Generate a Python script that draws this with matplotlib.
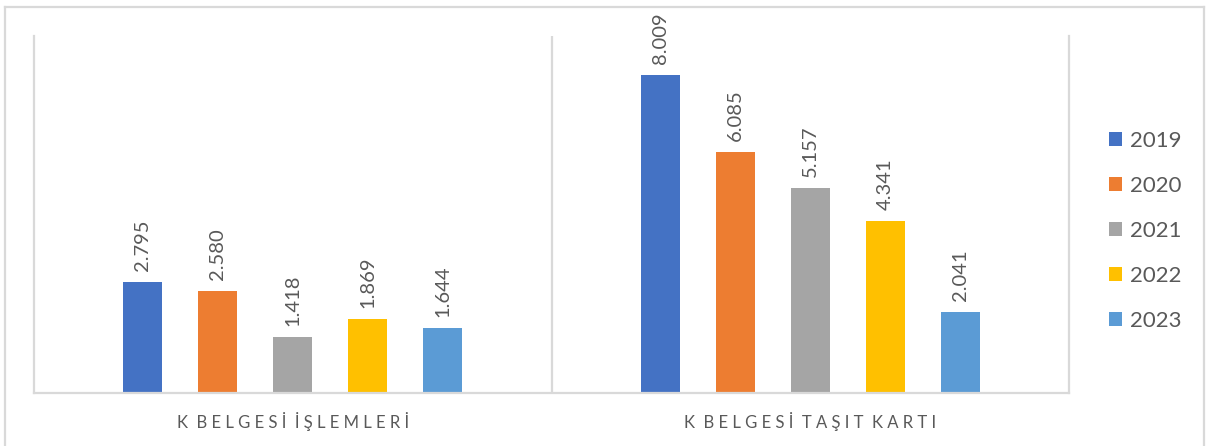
import matplotlib.pyplot as plt
import numpy as np
from matplotlib.lines import Line2D
from matplotlib.patches import Patch

categories = ["K BELGESİ İŞLEMLERİ", "K BELGESİ TAŞIT KARTI"]
years = ["2019", "2020", "2021", "2022", "2023"]
values = {
    "2019": [2795, 8009],
    "2020": [2580, 6085],
    "2021": [1418, 5157],
    "2022": [1869, 4341],
    "2023": [1644, 2041],
}
colors = ["#4472C4", "#ED7D31", "#A5A5A5", "#FFC000", "#5B9BD5"]

TEXT = "#595959"
LINE = "#D9D9D9"
plt.rcParams["font.family"] = ["Lato", "DejaVu Sans"]


def spaced(label):
    # wide character spacing for the category labels
    return "  ".join(" ".join(w) for w in label.split(" "))


def tr_num(v):
    return f"{v:,}".replace(",", ".")


fig = plt.figure(figsize=(12.06, 4.46), dpi=100)
ax = fig.add_axes([34 / 1206, 1 - 393 / 446, (1069 - 34) / 1206, (393 - 36) / 446])

x = np.arange(len(categories))
step, width = 0.145, 0.076
for i, (yr, col) in enumerate(zip(years, colors)):
    pos = x + (i - 2) * step
    bars = ax.bar(pos, values[yr], width=width, color=col, zorder=2)
    for b, v in zip(bars, values[yr]):
        ax.annotate(tr_num(v), (b.get_x() + b.get_width() / 2, v),
                    xytext=(0, 8), textcoords="offset points",
                    rotation=90, ha="center", va="bottom",
                    fontsize=14.5, color=TEXT)

ax.set_xlim(-0.5, 1.5)
ax.set_ylim(0, 9000)
ax.set_yticks([])
ax.set_xticks(x)
ax.set_xticklabels([spaced(c) for c in categories], fontsize=12, color=TEXT)
ax.tick_params(axis="x", length=0, pad=14)
ax.axvline(0.5, color=LINE, lw=1.6, zorder=1)
for side in ("left", "right", "bottom"):
    ax.spines[side].set_color(LINE)
    ax.spines[side].set_linewidth(1.6)
ax.spines["top"].set_visible(False)

handles = [Patch(facecolor=c, edgecolor="none") for c in colors]
fig.legend(handles, years, loc="upper left",
           bbox_to_anchor=(1109 / 1206, 1 - 131 / 446),
           frameon=False, fontsize=16, labelcolor=TEXT,
           handlelength=0.6, handleheight=0.6, handletextpad=0.35,
           labelspacing=1.12, borderaxespad=0, borderpad=0)

# outer chart border
for xs, ys in (([5, 5], [446, 7]), ([5, 1204], [7, 7]), ([1204, 1204], [7, 446])):
    fig.add_artist(Line2D([v / 1206 for v in xs], [1 - v / 446 for v in ys],
                          color=LINE, lw=1.6, transform=fig.transFigure))

fig.savefig("out.png", dpi=100)
